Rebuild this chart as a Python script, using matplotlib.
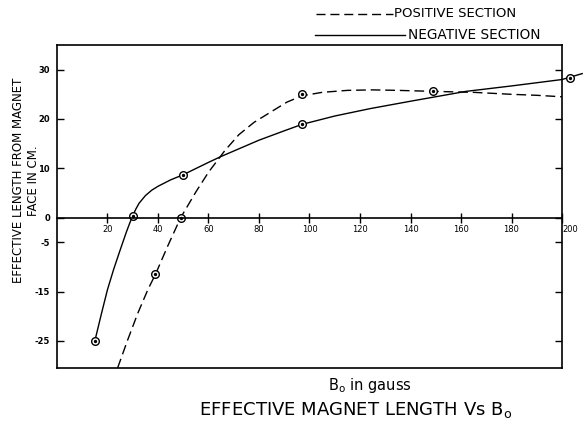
import matplotlib
matplotlib.use("Agg")
import matplotlib.pyplot as plt
from matplotlib.lines import Line2D

# measured points (circles)
neg_pts_x = [15, 30, 50, 97, 203]
neg_pts_y = [-25, 0.4, 8.7, 18.9, 28.3]
pos_pts_x = [39, 49, 97, 149]
pos_pts_y = [-11.5, 0, 25.1, 25.6]

# hand-drawn curves traced from the sheet
neg_curve_x = [15, 17.5, 20, 22.5, 25, 27.5, 28.75, 30, 31.25, 32.5, 35, 37.5, 40, 45,
               50, 55, 60, 65, 70, 80, 90, 97, 110, 124, 140, 162, 180, 200, 208]
neg_curve_y = [-25, -19.7, -14.6, -10.4, -6.6, -2.9, -1.2, 0.4, 1.75, 2.9, 4.45, 5.55,
               6.35, 7.65, 8.7, 9.95, 11.2, 12.4, 13.5, 15.7, 17.6, 18.9, 20.6, 22.1,
               23.6, 25.6, 26.7, 28.0, 29.2]
pos_curve_x = [24, 28, 32, 36, 39, 44, 49, 55, 60, 66.5, 72, 78, 84, 91, 97, 105, 115,
               125, 135, 149, 165, 180, 190, 200]
pos_curve_y = [-30.5, -24.8, -19.4, -14.6, -11.5, -5.6, 0, 5.2, 9.2, 13.6, 16.8, 19.3,
               21.2, 23.4, 24.7, 25.4, 25.8, 25.9, 25.8, 25.6, 25.4, 25.0, 24.8, 24.5]

x_ticks = [20, 40, 60, 80, 100, 120, 140, 160, 180, 200]
y_ticks = [-25, -15, -5, 0, 10, 20, 30]
y_labels = ['-25', '-15', '-5', '0', '10', '20', '30']

fig = plt.figure(figsize=(5.85, 4.23), dpi=100)
ax = fig.add_axes([0.0974, 0.13, 0.8633, 0.7636])

ax.set_xlim(0, 200)
ax.set_ylim(-30.5, 35)

ax.plot(neg_curve_x, neg_curve_y, color='black', lw=1.0, clip_on=False)
ax.plot(pos_curve_x, pos_curve_y, color='black', lw=1.0, dashes=(7, 3.5))

for px, py in [(neg_pts_x, neg_pts_y), (pos_pts_x, pos_pts_y)]:
    ax.plot(px, py, 'o', ms=5.5, mfc='white', mec='black', mew=1.0, clip_on=False)
    ax.plot(px, py, 'o', ms=1.4, color='black', clip_on=False)

# x axis lives on the zero line, frame bottom drawn separately
ax.spines['bottom'].set_position(('data', 0))
ax.axhline(-30.5, color='black', lw=1.2, clip_on=False)
for s in ['left', 'right', 'top', 'bottom']:
    ax.spines[s].set_linewidth(1.2)

ax.set_xticks(x_ticks)
ax.set_xticklabels([str(t) for t in x_ticks], fontsize=6)
ax.get_xticklabels()[-1].set_ha('left')
ax.set_yticks(y_ticks)
ax.set_yticklabels(y_labels, fontsize=6, fontweight='bold')
ax.tick_params(axis='x', direction='inout', length=7, width=1, pad=2)
ax.tick_params(axis='y', direction='in', length=5, width=1, right=True, pad=5)

ax.text(0.62, -0.025, r'B$_\mathrm{o}$ in gauss', transform=ax.transAxes,
        fontsize=10.5, ha='center', va='top')

fig.text(0.607, 0.031, r'EFFECTIVE MAGNET LENGTH Vs B$_\mathrm{o}$', fontsize=13,
         ha='center', va='center')
fig.text(0.031, 0.574, 'EFFECTIVE LENGTH FROM MAGNET', rotation=90, fontsize=8.5,
         ha='center', va='center')
fig.text(0.057, 0.574, 'FACE IN CM.', rotation=90, fontsize=8.5,
         ha='center', va='center')

# legend at the top, outside the frame
fig.add_artist(Line2D([0.54, 0.672], [0.967, 0.967], color='black', lw=1.0,
                      dashes=(6.5, 3.5)))
fig.text(0.674, 0.967, 'POSITIVE SECTION', fontsize=9.5, ha='left', va='center')
fig.add_artist(Line2D([0.538, 0.692], [0.917, 0.917], color='black', lw=1.0))
fig.text(0.698, 0.917, 'NEGATIVE SECTION', fontsize=9.8, ha='left', va='center')

fig.savefig('out.png', dpi=100)
